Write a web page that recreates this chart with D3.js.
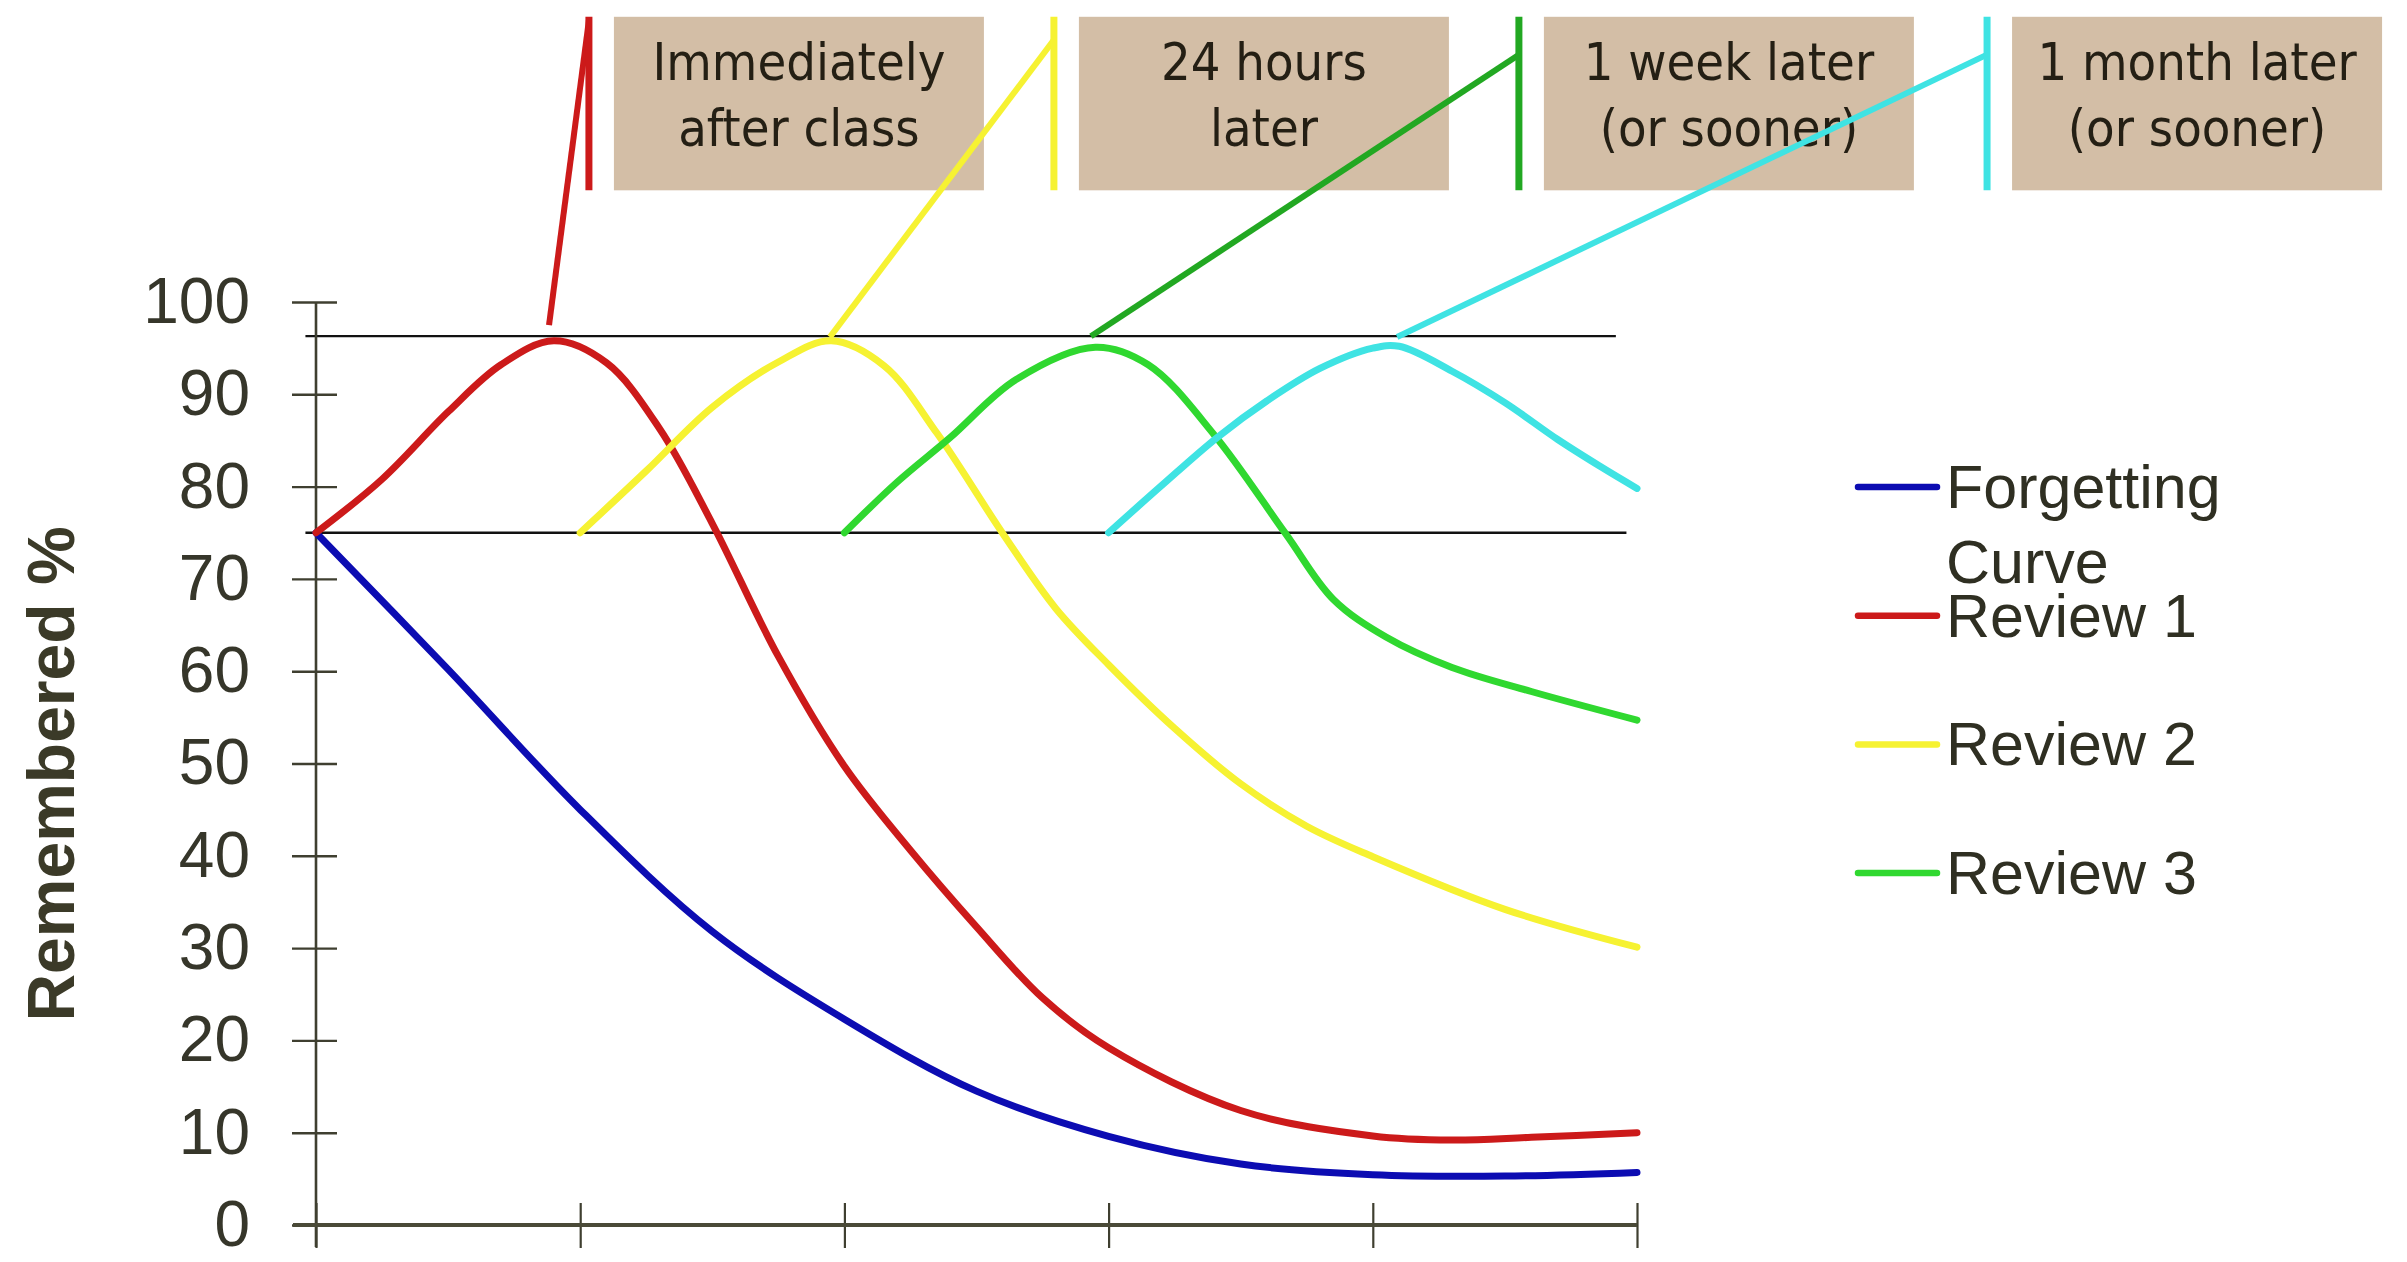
<!DOCTYPE html>
<html lang="en">
<head>
    <meta charset="UTF-8">
    <title>Forgetting Curve</title>
    <style>
        body { margin: 0; background: #fff; }
        svg { display: block; }
        .box-text { font-family: "DejaVu Sans Condensed", "DejaVu Sans", sans-serif; font-stretch: condensed; font-size: 52px; fill: #241f14; }
        .tick text { font-family: "Liberation Sans", Arial, sans-serif; font-size: 64px; fill: #36362a; }
        .legend text { font-family: "Liberation Sans", Arial, sans-serif; font-size: 61px; fill: #2f2f22; }
    </style>
</head>
<body>
<svg id="chart" width="2407" height="1262"></svg>

<script src="https://cdn.jsdelivr.net/npm/d3@7"></script>
<script>
    // x in "review periods" (0..5), y in % remembered
    const xTicks = [0, 1, 2, 3, 4, 5]
    const yTicks = [0, 10, 20, 30, 40, 50, 60, 70, 80, 90, 100]

    const forgetting = [[0, 75], [0.5, 60.2], [1, 45], [1.5, 31.8], [2, 22.3], [2.5, 14.5], [3, 9.6], [3.5, 6.6],
        [4, 5.45], [4.5, 5.3], [5, 5.7]]
    const review1 = [[0, 75], [0.25, 80.8], [0.5, 88.1], [0.7, 93.2], [0.9, 95.8], [1.1, 93.4], [1.3, 86.3], [1.5, 76],
        [1.75, 61.6], [2, 49.7], [2.25, 40.6], [2.5, 32.3], [2.75, 24.6], [3, 19.2], [3.5, 12.4], [4, 9.65],
        [4.3, 9.2], [4.6, 9.5], [5, 10]]
    const review2 = [[1, 75], [1.25, 81.7], [1.5, 88.6], [1.75, 93.5], [1.95, 95.8], [2.15, 93.1], [2.35, 85.8], [2.6, 74.9],
        [2.8, 66.8], [3, 60.7], [3.25, 53.8], [3.5, 47.8], [3.75, 43.2], [4, 39.9], [4.5, 34.2], [5, 30.1]]
    const review3 = [[2, 75], [2.2, 80.5], [2.4, 85.3], [2.65, 91.6], [2.95, 95.1], [3.15, 93.2], [3.4, 85.6], [3.67, 74.9],
        [3.85, 67.8], [4.05, 63.7], [4.3, 60.4], [4.6, 57.8], [5, 54.7]]
    const review4 = [[3, 75], [3.2, 80.1], [3.41, 85.3], [3.6, 89.3], [3.8, 92.8], [4.0, 95], [4.1, 95.2], [4.3, 92.5],
        [4.5, 89.1], [4.7, 85.1], [4.86, 82.2], [5, 79.8]]

    const refLines = [[96.3, -0.04, 4.92], [75, -0.04, 4.96]]

    // callouts: from curve peak to the label bracket
    const calloutPeak = [[0.882, 97.5], [1.945, 96.2], [2.933, 96.3], [4.092, 96.2]]
    const calloutTop = [[1.033, 130.5], [2.793, 128.4], [4.553, 126.8], [6.325, 126.8]]
    const bracketRange = [130.9, 112.1]
    const boxLabels = [["Immediately", "after class"], ["24 hours", "later"], ["1 week later", "(or sooner)"], ["1 month later", "(or sooner)"]]

    const legendNames = [["Forgetting", "Curve"], ["Review 1"], ["Review 2"], ["Review 3"]]

    const curveColors = ["#0c0cb2", "#cc1a1a", "#f6f232", "#30d830", "#3fe3e3"]
    const calloutColors = ["#cc1a1a", "#f6f232", "#22a822", "#3fe3e3"]

    let svg = d3.select("#chart")

    let x = d3.scaleLinear().domain([0, 5]).range([316, 1637])
    let y = d3.scaleLinear().domain([0, 100]).range([1225, 302])

    // reference lines
    svg.selectAll(".ref").data(refLines).enter()
        .append("line")
        .attr("x1", d => x(d[1])).attr("x2", d => x(d[2]))
        .attr("y1", d => y(d[0])).attr("y2", d => y(d[0]))
        .attr("stroke", "#111").attr("stroke-width", 2.4)

    // axes - ticks cross the axis line
    let yAxis = d3.axisLeft(y).tickValues(yTicks).tickSize(45).tickSizeOuter(0).tickPadding(42)
    let gy = svg.append("g").attr("transform", `translate(${x(0) + 21},0)`).call(yAxis)
    gy.select(".domain").remove()
    gy.selectAll(".tick line").attr("stroke", "#3f3f30").attr("stroke-width", 2.4)

    let xAxis = d3.axisBottom(x).tickValues(xTicks).tickSize(45).tickSizeOuter(0).tickFormat("")
    let gx = svg.append("g").attr("transform", `translate(0,${y(0) - 22})`).call(xAxis)
    gx.select(".domain").remove()
    gx.selectAll(".tick line").attr("stroke", "#3f3f30").attr("stroke-width", 2.2)

    svg.append("line")
        .attr("x1", x(0)).attr("x2", x(0)).attr("y1", y(100)).attr("y2", y(0) + 22)
        .attr("stroke", "#3f3f30").attr("stroke-width", 2.6)
    svg.append("line")
        .attr("x1", x(0) - 23).attr("x2", x(5)).attr("y1", y(0)).attr("y2", y(0))
        .attr("stroke", "#4a4a38").attr("stroke-width", 3.8)

    svg.append("text")
        .attr("transform", `translate(74,774) rotate(-90)`)
        .attr("text-anchor", "middle")
        .style("font-family", "'Liberation Sans', Arial, sans-serif")
        .style("font-weight", "bold")
        .style("font-size", "66px")
        .style("fill", "#3b3a28")
        .text("Remembered %")

    // callouts and label boxes
    calloutPeak.forEach((p, i) => {
        let t = calloutTop[i]
        svg.append("line")
            .attr("x1", x(p[0])).attr("y1", y(p[1]))
            .attr("x2", x(t[0])).attr("y2", y(t[1]))
            .attr("stroke", calloutColors[i]).attr("stroke-width", 6)
        svg.append("line")
            .attr("x1", x(t[0])).attr("x2", x(t[0]))
            .attr("y1", y(bracketRange[0])).attr("y2", y(bracketRange[1]))
            .attr("stroke", calloutColors[i]).attr("stroke-width", 7)

        let bx = x(t[0]) + 25
        let by = y(bracketRange[0])
        svg.append("rect")
            .attr("x", bx).attr("y", by)
            .attr("width", 370).attr("height", y(bracketRange[1]) - by)
            .attr("fill", "#d3bea6")
        boxLabels[i].forEach((s, j) => {
            svg.append("text").attr("class", "box-text")
                .attr("x", bx + 185).attr("y", by + 63 + j * 66)
                .attr("text-anchor", "middle")
                .text(s)
        })
    })

    // curves
    let line = d3.line().x(d => x(d[0])).y(d => y(d[1])).curve(d3.curveCatmullRom.alpha(0.5))
    let series = [forgetting, review1, review2, review3, review4]
    svg.selectAll(".curve").data(series).enter()
        .append("path")
        .attr("d", d => line(d))
        .attr("fill", "none")
        .attr("stroke", (d, i) => curveColors[i])
        .attr("stroke-width", 7)
        .attr("stroke-linecap", "round")
        .attr("stroke-linejoin", "round")

    // legend
    let legend = svg.append("g").attr("class", "legend")
    legendNames.forEach((names, i) => {
        let ly = 487 + i * 128.7
        legend.append("line")
            .attr("x1", 1858).attr("x2", 1937).attr("y1", ly).attr("y2", ly)
            .attr("stroke", curveColors[i]).attr("stroke-width", 6.5)
            .attr("stroke-linecap", "round")
        names.forEach((s, j) => {
            legend.append("text")
                .attr("x", 1946).attr("y", ly + 21 + j * 75)
                .text(s)
        })
    })
</script>
</body>
</html>
